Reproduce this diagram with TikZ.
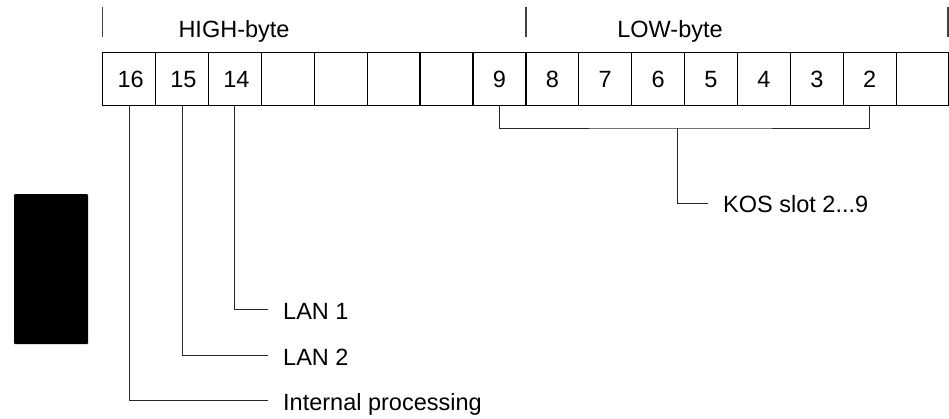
\documentclass[tikz,border=0pt]{standalone}
\usepackage{fontspec}
\setmainfont{Liberation Sans}
\begin{document}
\begin{tikzpicture}[x=1pt,y=-1pt,
  cell/.style={draw,line width=1.3pt,rectangle,minimum width=52.9pt,minimum height=53pt,inner sep=0pt,anchor=north west,font=\fontsize{23.5}{26}\selectfont},
  lbl/.style={anchor=base west,inner sep=0pt,font=\fontsize{23.5}{26}\selectfont},
  hdr/.style={anchor=base,inner sep=0pt,font=\fontsize{23.5}{26}\selectfont},
  conn/.style={draw,line width=1pt,color=black!85},
  tick/.style={draw,line width=1.2pt,color=black!75}]
\useasboundingbox (0,0) rectangle (949,418);
% cells
\foreach \i in {0,...,15}{
  \pgfmathtruncatemacro{\lab}{16-\i}
  \ifnum\i<3
    \node[cell] (c\i) at ({102+52.9*\i},52) {\hspace{3pt}\lab};
  \else\ifnum\i<7
    \node[cell] (c\i) at ({102+52.9*\i},52) {};
  \else\ifnum\i<15
    \node[cell] (c\i) at ({102+52.9*\i},52) {\lab};
  \else
    \node[cell] (c\i) at ({102+52.9*\i},52) {};
  \fi\fi\fi
}
% header ticks and labels
\coordinate (t1a) at (102.3,7); \coordinate (t1b) at (102.3,37);
\coordinate (t2a) at (526,7);   \coordinate (t2b) at (526,37);
\coordinate (t3a) at (948,7);   \coordinate (t3b) at (948,37);
\draw[tick] (t1a) -- (t1b);
\draw[tick] (t2a) -- (t2b);
\draw[tick] (t3a) -- (t3b);
\node[hdr] (high) at (234,37) {HIGH-byte};
\node[hdr] (low) at (670,37) {LOW-byte};
% black block
\fill[rounded corners=1pt] (14,194) rectangle (88,344);
% labels
\node[lbl] (lan1) at (283,319) {LAN 1};
\node[lbl] (lan2) at (283,365) {LAN 2};
\node[lbl] (lint) at (283,410) {Internal processing};
\node[lbl] (kos) at (723,212) {KOS slot 2...9};
\coordinate (e1) at (268,309);
\coordinate (e2) at (268,355);
\coordinate (e3) at (268,400);
\coordinate (ek) at (708,203);
\coordinate (bm) at (677,128);
% connectors
\draw[conn] (c2.south) |- (e1);
\draw[conn] (c1.south) |- (e2);
\draw[conn] (c0.south) |- (e3);
\draw[conn] (c7.south) |- (bm) -| (c14.south);
\draw[conn] (bm) |- (ek);
\end{tikzpicture}
\end{document}
